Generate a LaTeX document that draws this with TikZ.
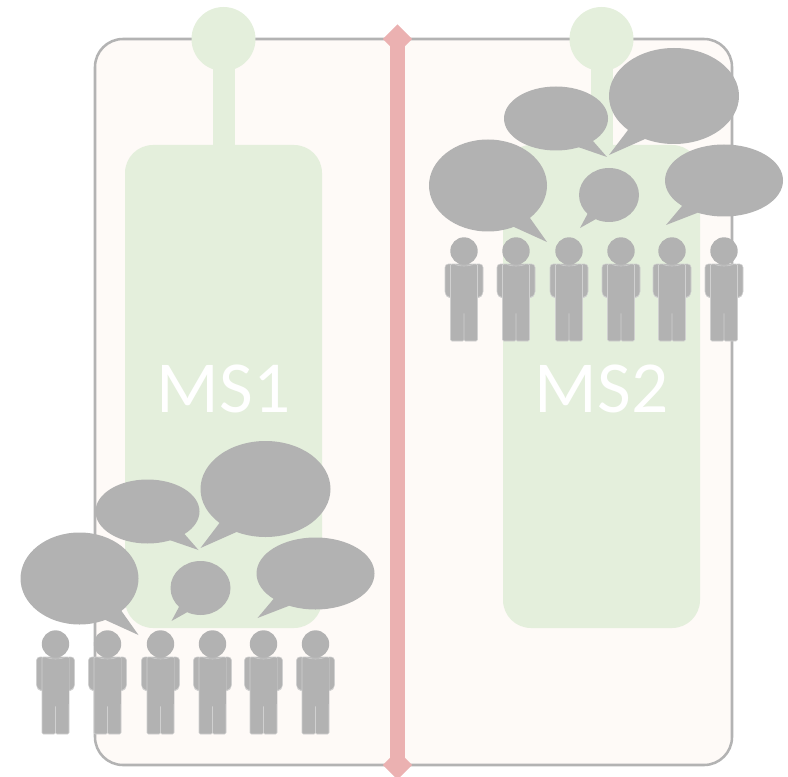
\documentclass[tikz,border=0pt]{standalone}
\usepackage{fontspec}
\setmainfont{Carlito}
\usepackage{xcolor}
\usetikzlibrary{positioning,shapes.geometric}

\definecolor{crowd}{HTML}{B2B2B2}
\definecolor{crowdline}{HTML}{D0D0D0}
\definecolor{domain}{HTML}{FEFAF7}
\definecolor{service}{HTML}{E4EFDC}
\definecolor{divider}{HTML}{EBB1B1}
\definecolor{frame}{HTML}{B3B3B3}

\tikzset{
  zonebox/.style={draw=frame, line width=1.9pt, fill=domain, rounded corners=21pt, minimum width=477.75pt, minimum height=544.5pt},
  msbox/.style={fill=service, text=white, rounded corners=21pt, minimum width=147.75pt, minimum height=362.25pt, font=\fontsize{55}{60}\selectfont},
  mslabel/.style={text=white, font=\fontsize{55}{60}\selectfont, inner sep=0pt},
  mspin/.style={circle, fill=service, minimum size=48pt, inner sep=0pt},
  msstem/.style={draw=service, line width=16.5pt},
  barend/.style={diamond, fill=divider, minimum size=22pt, inner sep=0pt},
  barline/.style={draw=divider, line width=11.25pt},
  limb/.style={fill=crowd, draw=crowdline, line width=0.4pt, rounded corners=2.5pt},
}

% head centre at (#1,#2)
\newcommand{\person}[2]{
  \begin{scope}[shift={(#1,#2)}]
    \path[limb] (-10,13) -- (-19,13) -- (-19,44) -- (-15,46.5) -- (-10,46.5) -- cycle;
    \path[limb] (10,13) -- (19,13) -- (19,44) -- (15,46.5) -- (10,46.5) -- cycle;
    \path[limb, rounded corners=1pt] (-13.5,13) -- (13.5,13) -- (13.5,90) -- (0,90) -- (0,61) -- (0,90) -- (-13.5,90) -- cycle;
    \fill[crowd] (-13,14) rectangle (13,60);
    \fill[crowd] (0,0) circle [radius=13.7];
    \draw[crowdline, line width=0.4pt] (-9,13.6) .. controls (-4,15.5) and (4,15.5) .. (9,13.6);
  \end{scope}
}

% centre, radii, tail base 1, tail base 2, tail tip
\newcommand{\bubble}[7]{
  \fill[crowd] (#1,#2) ellipse [x radius=#3, y radius=#4];
  \fill[crowd] (#5) -- (#7) -- (#6) -- (#1,#2) -- cycle;
}

\newcommand{\crowdgroup}{
  \foreach \px in {464,516,569,621,672,724} {
    \person{\px}{251}
  }
  \bubble{488}{185.5}{59}{46}{530,218}{514,227}{547,242}
  \bubble{556}{118.5}{52}{32}{593,141}{578,147}{607,157}
  \bubble{609}{195}{30}{27}{588,213}{596,219}{580,228}
  \bubble{674}{96}{65}{48}{628,130}{645,139}{609,155}
  \bubble{724}{180.5}{59}{36}{682,206}{697,213}{666,225}
}

\begin{document}
\begin{tikzpicture}[x=0.75pt, y=-0.75pt]
\useasboundingbox (0,0) rectangle (788,777);

\node[zonebox] (zone) at (413.5,402) {};

\node[msbox] (ms1) at (223.5,386.5) {};
\node[msbox] (ms2) at (601.5,386.5) {};
\node[mspin] (pin1) at (223.5,39) {};
\node[mspin] (pin2) at (601.5,39) {};
\path[msstem] (pin1.center) -- (ms1.center);
\path[msstem] (pin2.center) -- (ms2.center);
\node[mslabel] (ms1label) at (223.5,388.5) {MS1};
\node[mslabel] (ms2label) at (601.5,388.5) {MS2};

\node[barend] (bartop) at (397.5,39) {};
\node[barend] (barbottom) at (397.5,765) {};
\path[barline] (bartop.center) -- (barbottom.center);

\crowdgroup
\begin{scope}[shift={(-408.5,393)}]
  \crowdgroup
\end{scope}
\end{tikzpicture}
\end{document}
